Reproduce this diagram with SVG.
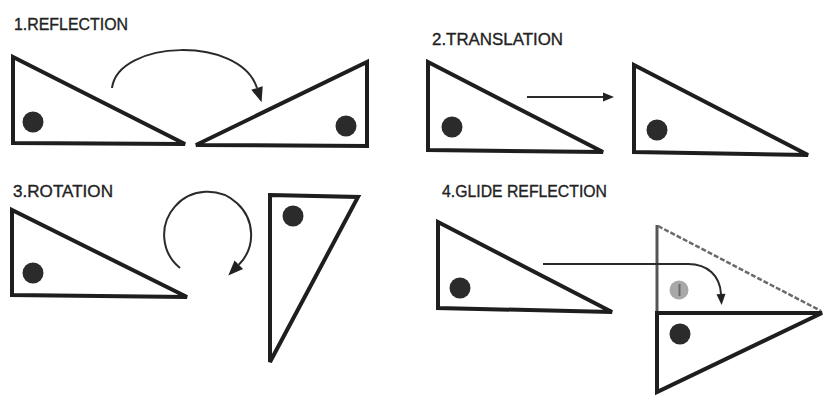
<svg xmlns="http://www.w3.org/2000/svg" width="823" height="396" viewBox="0 0 823 396">
<defs>
<style>
.lbl{font-family:"Liberation Sans",Arial,sans-serif;font-size:17px;fill:#222;stroke:#222;stroke-width:0.35}
.tri{fill:none;stroke:#1e1e1e;stroke-width:4}
.dot{fill:#2b2b2b}
.arc{fill:none;stroke:#2a2a2a;stroke-width:2}
</style>
<marker id="ah" markerUnits="userSpaceOnUse" markerWidth="20" markerHeight="20" refX="0" refY="0" orient="auto" overflow="visible">
<path d="M0,-6 L15,0 L0,6 Z" fill="#222"/>
</marker>
<marker id="ahs" markerUnits="userSpaceOnUse" markerWidth="20" markerHeight="20" refX="0" refY="0" orient="auto" overflow="visible">
<path d="M0,-4.5 L11,0 L0,4.5 Z" fill="#222"/>
</marker>
</defs>
<rect width="823" height="396" fill="#fff"/>

<g id="labels">
<text class="lbl" x="14" y="30" textLength="114" lengthAdjust="spacingAndGlyphs">1.REFLECTION</text>
<text class="lbl" x="432" y="45" textLength="131" lengthAdjust="spacingAndGlyphs">2.TRANSLATION</text>
<text class="lbl" x="13" y="197" textLength="100" lengthAdjust="spacingAndGlyphs">3.ROTATION</text>
<text class="lbl" x="442" y="197" textLength="165" lengthAdjust="spacingAndGlyphs">4.GLIDE REFLECTION</text>
</g>

<g id="reflection-original">
<polygon class="tri" points="13,57 13,143 185,144"/>
<circle class="dot" cx="33" cy="122" r="10.5"/>
</g>
<g id="reflection-image">
<polygon class="tri" points="196,145 367,62 367,146"/>
<circle class="dot" cx="346" cy="126" r="10.5"/>
</g>

<g id="translation-original">
<polygon class="tri" points="428,62 428,150 603,152"/>
<circle class="dot" cx="452" cy="127" r="10.5"/>
</g>
<g id="translation-image">
<polygon class="tri" points="634,65 634,152 808,155"/>
<circle class="dot" cx="657" cy="130" r="10.5"/>
</g>

<g id="rotation-original">
<polygon class="tri" points="12,210 12,295 187,297"/>
<circle class="dot" cx="33" cy="273" r="10.5"/>
</g>
<g id="rotation-image">
<polygon class="tri" points="270,195 358,197 270,362"/>
<circle class="dot" cx="293" cy="216" r="10.5"/>
</g>

<g id="glide-original">
<polygon class="tri" points="438,222 438,308 612,312"/>
<circle class="dot" cx="460" cy="288" r="10.5"/>
</g>
<g id="glide-intermediate">
<line x1="657" y1="225" x2="657" y2="313" stroke="#555" stroke-width="3"/>
<line x1="658" y1="226" x2="821" y2="311" stroke="#6a6a6a" stroke-width="2.5" stroke-dasharray="5,2"/>
<circle cx="679" cy="290" r="9.5" fill="#a8a8a8"/>
<rect x="678.5" y="284" width="2" height="12" fill="#6a6a6a"/>
</g>
<g id="glide-image">
<polygon class="tri" points="657,313 822,313 657,392"/>
<circle class="dot" cx="680" cy="334" r="10.5"/>
</g>

<g id="connectors">
<path class="arc" d="M112,88 C118,40 240,35 257,88" marker-end="url(#ah)"/>
<path class="arc" d="M527,97 L603,97" marker-end="url(#ahs)"/>
<path class="arc" d="M180,268 A43.5,43 0 1 1 238.8,264.8" marker-end="url(#ah)"/>
<path class="arc" d="M543,264 L688,264 C708,264 720,276 721,294" marker-end="url(#ahs)"/>
</g>
</svg>
